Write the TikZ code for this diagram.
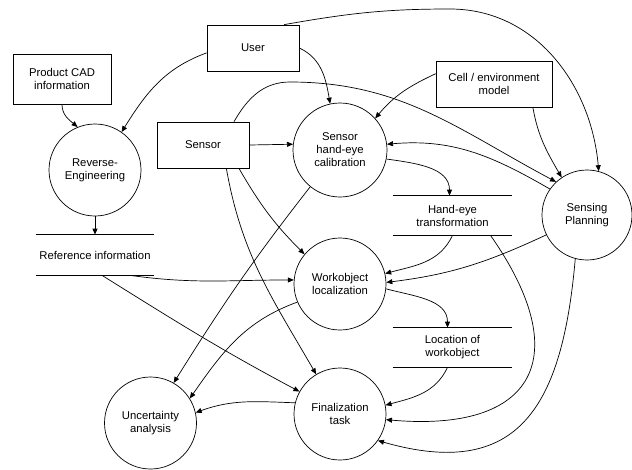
\documentclass[tikz,border=0pt]{standalone}
\usepackage{fontspec}
\setmainfont{Liberation Sans}
\usetikzlibrary{arrows.meta,calc}
\begin{document}
\begin{tikzpicture}[x=1pt,y=1pt,
  every node/.style={font=\fontsize{11.3}{13}\selectfont, align=center, line width=0.7pt},
  proc/.style={draw, circle, minimum size=92pt, inner sep=0pt},
  ext/.style={draw, rectangle, minimum width=92pt, minimum height=46pt, inner sep=0pt},
  store/.style={rectangle, minimum width=119pt, minimum height=39pt, inner sep=0pt},
  flow/.style={line width=0.7pt, -{Triangle[length=6pt,width=5pt]}}]
\useasboundingbox (0,0) rectangle (632,-469);
% external entities
\node[ext] (User) at (253,-48) {User};
\node[ext, minimum width=98pt, minimum height=50pt] (CAD) at (62,-79) {Product CAD\\information};
\node[ext] (Sensor) at (203,-145) {Sensor};
\node[ext, minimum width=116pt] (Cell) at (494,-84) {Cell / environment\\model};
% processes
\node[proc] (RE) at (95,-170) {Reverse-\\Engineering};
\node[proc, minimum size=94pt] (SHC) at (340,-150) {Sensor\\hand-eye\\calibration};
\node[proc, minimum size=90pt] (SP) at (587,-215) {Sensing\\Planning};
\node[proc] (WL) at (340,-284) {Workobject\\localization};
\node[proc] (FT) at (340,-414) {Finalization\\task};
\node[proc] (UA) at (150.5,-423) {Uncertainty\\analysis};
% data stores
\node[store, minimum width=118pt, minimum height=40pt] (ref) at (95,-255) {Reference information};
\node[store] (HE) at (452.5,-215.5) {Hand-eye\\transformation};
\node[store] (LoW) at (452.5,-347.5) {Location of\\workobject};
\foreach \s in {ref,HE,LoW}{
  \draw[line width=0.7pt] (\s.north west) -- (\s.north east);
  \draw[line width=0.7pt] (\s.south west) -- (\s.south east);
}
% waypoints
\coordinate (toparc) at (450,-9);
\coordinate (sensorarc) at (290,-82);
% flows
\draw[flow] (User.186) to[out=200,in=58] (RE.55);
\draw[flow] (CAD.south) to[out=-90,in=140] (RE.112);
\draw[flow] (RE.south) -- (ref.north);
\draw[flow] (User.east) to[out=-25,in=100] (SHC.102);
\draw[flow] (User.37) to[out=10,in=180] (toparc) to[out=0,in=95] (SP.75);
\draw[flow] (Cell.170) to[out=205,in=50] (SHC.42);
\draw[flow] (Cell.-31) to[out=-80,in=120] (SP.124);
\draw[flow] (Sensor.east) -- (SHC.173);
\draw[flow] (Sensor.37) to[out=60,in=180] (sensorarc) to[out=0,in=152] (SP.133);
\draw[flow] (SP.145) to[out=150,in=5] (SHC.7);
\draw[flow] (SHC.-11) to[out=-8,in=90] ($(HE.north)+(-3,0)$);
\draw[flow] (Sensor.-33) to[out=-60,in=135] (WL.140);
\draw[flow] (Sensor.-45) to[out=-80,in=120] (FT.121);
\draw[flow] (SHC.231) to[out=232,in=58] (UA.60);
\draw[flow] ($(ref.south)+(35,0)$) to[out=-8,in=180] (WL.175);
\draw[flow] ($(ref.south)+(7,0)$) to[out=-32,in=152] (FT.151);
\draw[flow] (WL.203) to[out=200,in=55] (UA.32);
\draw[flow] (FT.166) to[out=178,in=20] (UA.13);
\draw[flow] (HE.south) to[out=-115,in=15] (WL.13);
\draw[flow] (SP.206) to[out=205,in=7] (WL.2);
\draw[flow] (WL.-6) to[out=-15,in=90] ($(LoW.north)+(-5,0)$);
\draw[flow] ($(LoW.south)+(-5,0)$) to[out=-115,in=15] (FT.11);
\draw[flow] ($(HE.south)+(38,0)$) to[out=-55,in=-5,looseness=1.8] (FT.-7);
\draw[flow] (SP.255) to[out=-95,in=-16,looseness=1.4] (FT.-35);
\end{tikzpicture}
\end{document}
